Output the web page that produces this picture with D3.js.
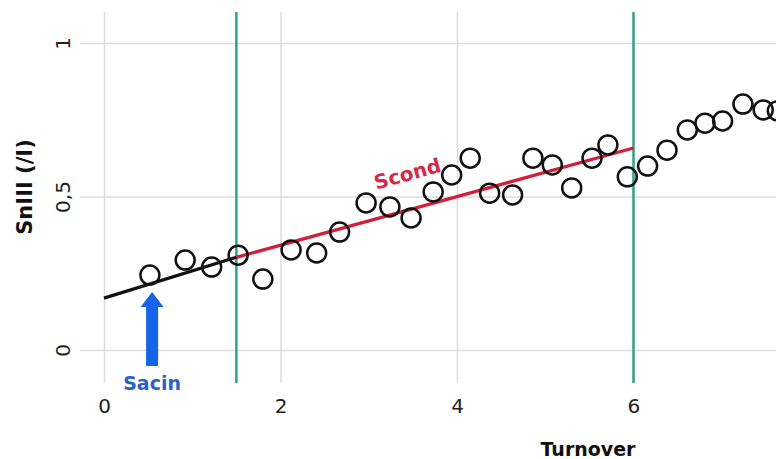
<!DOCTYPE html>
<html>
<head>
<meta charset="utf-8">
<script src="https://cdn.jsdelivr.net/npm/d3@7"></script>
<style>
  body { margin: 0; background: #fff; overflow: hidden; }
  text { font-family: "DejaVu Sans", Verdana, sans-serif; }
</style>
</head>
<body>
<script>
'use strict'

var width = 776
var height = 459

// measured points (turnover, SnIII)
var turnover = [0.52, 0.92, 1.22, 1.52, 1.80, 2.12, 2.41, 2.67, 2.97, 3.24,
  3.48, 3.73, 3.94, 4.15, 4.37, 4.63, 4.86, 5.08, 5.30, 5.53,
  5.71, 5.93, 6.16, 6.38, 6.61, 6.81, 7.01, 7.24, 7.47, 7.63]
var sn = [0.244, 0.293, 0.270, 0.309, 0.231, 0.326, 0.316, 0.384, 0.479, 0.466,
  0.430, 0.515, 0.570, 0.625, 0.511, 0.505, 0.625, 0.603, 0.528, 0.625,
  0.668, 0.564, 0.599, 0.651, 0.717, 0.739, 0.746, 0.801, 0.782, 0.779]

// fitted segments
var acinX = [0, 1.5]
var acinY = [0.169, 0.302]
var condX = [1.5, 6]
var condY = [0.302, 0.658]

var boundaries = [1.5, 6]
var xTicks = [0, 2, 4, 6]
var yTicks = [0, 0.5, 1]

var x = d3.scaleLinear().domain([-0.272, 7.615]).range([80, 776])
var y = d3.scaleLinear().domain([-0.1075, 1.101]).range([383, 12])

var svg = d3.select("body").append("svg")
  .attr("width", width)
  .attr("height", height)

// grid + x axis
var xAxis = svg.append("g")
  .attr("transform", "translate(0," + y.range()[0] + ")")
  .call(d3.axisBottom(x).tickValues(xTicks).tickSize(-(y.range()[0] - y.range()[1])))
xAxis.select(".domain").remove()
xAxis.selectAll("line").attr("stroke", "#dcdcdc").attr("stroke-width", 1.5)
xAxis.selectAll("text")
  .attr("y", 30).attr("dy", 0)
  .attr("fill", "#222").style("font-size", "20px")

// grid + y axis
var yAxis = svg.append("g")
  .attr("transform", "translate(" + x.range()[0] + ",0)")
  .call(d3.axisLeft(y).tickValues(yTicks)
    .tickSize(-(x.range()[1] - x.range()[0]))
    .tickFormat(function(d) { return String(d).replace(".", ",") }))
yAxis.select(".domain").remove()
yAxis.selectAll("line").attr("stroke", "#dcdcdc").attr("stroke-width", 1.5)
yAxis.selectAll("text")
  .attr("x", 0).attr("dy", 0)
  .attr("transform", "translate(-10,0) rotate(-90)")
  .attr("text-anchor", "middle")
  .attr("fill", "#222").style("font-size", "20px")

// boundary lines
svg.append("g").selectAll("line")
  .data(boundaries)
  .enter()
  .append("line")
  .attr("x1", d => x(d)).attr("x2", d => x(d))
  .attr("y1", y.range()[1]).attr("y2", y.range()[0])
  .attr("stroke", "#2fa383")
  .attr("stroke-width", 2.5)

var line = d3.line()
  .x(d => x(d[0]))
  .y(d => y(d[1]))

svg.append("path")
  .attr("d", line(d3.zip(acinX, acinY)))
  .attr("fill", "none").attr("stroke", "#111").attr("stroke-width", 3.3)
svg.append("path")
  .attr("d", line(d3.zip(condX, condY)))
  .attr("fill", "none").attr("stroke", "#d21f3c").attr("stroke-width", 3.3)

// points
svg.append("g").selectAll("circle")
  .data(d3.zip(turnover, sn))
  .enter()
  .append("circle")
  .attr("cx", d => x(d[0]))
  .attr("cy", d => y(d[1]))
  .attr("r", 9.5)
  .attr("fill", "none")
  .attr("stroke", "#111")
  .attr("stroke-width", 2.5)

// Sacin arrow
var ax = x(0.545)
var tipY = y(0.189)
svg.append("path")
  .attr("d", "M" + ax + "," + tipY +
    " L" + (ax + 11.5) + "," + (tipY + 15) +
    " L" + (ax + 6) + "," + (tipY + 15) +
    " L" + (ax + 6) + "," + (tipY + 74) +
    " L" + (ax - 6) + "," + (tipY + 74) +
    " L" + (ax - 6) + "," + (tipY + 15) +
    " L" + (ax - 11.5) + "," + (tipY + 15) + " Z")
  .attr("fill", "#1565e8")
svg.append("text")
  .attr("x", ax).attr("y", 390)
  .attr("text-anchor", "middle")
  .attr("fill", "#2a62c9")
  .style("font-size", "19px").style("font-weight", "bold")
  .text("Sacin")

// Scond label
var angle = Math.atan2(y(condY[1]) - y(condY[0]), x(condX[1]) - x(condX[0])) * 180 / Math.PI
svg.append("text")
  .attr("transform", "translate(" + x(3.46) + "," + y(0.552) + ") rotate(" + angle + ")")
  .attr("text-anchor", "middle")
  .attr("fill", "#d42a4a")
  .style("font-size", "20px").style("font-weight", "bold")
  .text("Scond")

// axis titles
svg.append("text")
  .attr("x", 588).attr("y", 456)
  .attr("text-anchor", "middle")
  .attr("fill", "#111")
  .style("font-size", "19px").style("font-weight", "bold")
  .text("Turnover")
svg.append("text")
  .attr("transform", "translate(32,187) rotate(-90)")
  .attr("text-anchor", "middle")
  .attr("fill", "#111")
  .style("font-size", "21px").style("font-weight", "bold")
  .text("SnIII (/I)")
</script>
</body>
</html>
